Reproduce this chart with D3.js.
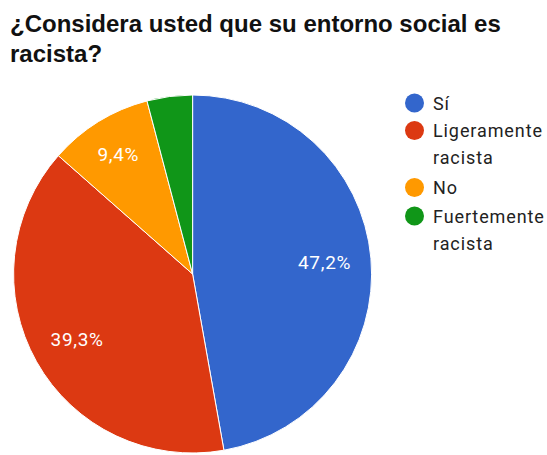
<!DOCTYPE html>
<html>
<head>
<meta charset="utf-8">
<script src="https://cdn.jsdelivr.net/npm/d3@7"></script>
<style>
  body { margin: 0; background: #fff; }
  svg { display: block; }
</style>
</head>
<body>
<svg id="chart" width="547" height="455"></svg>
<script>
// Survey answers and their shares (percent)
const categories = ["Sí", "Ligeramente racista", "No", "Fuertemente racista"];
const legendLines = [["Sí"], ["Ligeramente", "racista"], ["No"], ["Fuertemente", "racista"]];
const values = [47.2, 39.3, 9.4, 4.1];
const sliceLabels = ["47,2%", "39,3%", "9,4%", ""];
const colors = ["#3366cc", "#dc3912", "#ff9900", "#109618"];
const titleLines = ["¿Considera usted que su entorno social es", "racista?"];

const svg = d3.select("#chart");

// Title
svg.append("text")
  .attr("font-family", "Liberation Sans, Arial, sans-serif")
  .attr("font-weight", "bold")
  .attr("font-size", 24)
  .attr("fill", "#111")
  .selectAll("tspan")
  .data(titleLines)
  .join("tspan")
  .attr("x", 10)
  .attr("y", (d, i) => 32 + i * 30)
  .text(d => d);

// Pie, starting at 12 o'clock and running clockwise
const cx = 192.6, cy = 274, R = 179;
const pie = d3.pie().sort(null).value(d => d)(values);
const arc = d3.arc().innerRadius(0).outerRadius(R);
// narrow slices get their label pushed a little further out
const labelRadius = d => (d.endAngle - d.startAngle) < 0.8 ? R * 0.79 : R * 0.74;

const g = svg.append("g").attr("transform", `translate(${cx},${cy})`);
g.selectAll("path")
  .data(pie)
  .join("path")
  .attr("d", arc)
  .attr("fill", (d, i) => colors[i])
  .attr("stroke", "#fff")
  .attr("stroke-width", 1);

g.selectAll("text.lbl")
  .data(pie)
  .join("text")
  .attr("class", "lbl")
  .attr("transform", d => {
    const r = labelRadius(d);
    return `translate(${d3.arc().innerRadius(r).outerRadius(r).centroid(d)})`;
  })
  .attr("text-anchor", "middle")
  .attr("dy", "0.36em")
  .attr("font-family", "Roboto, Arial, sans-serif")
  .attr("font-size", 19)
  .attr("letter-spacing", 0.7)
  .attr("fill", "#fff")
  .text((d, i) => sliceLabels[i]);

// Legend
const legendY = [103, 130.5, 187.5, 216];
const items = svg.append("g")
  .selectAll("g")
  .data(categories)
  .join("g")
  .attr("transform", (d, i) => `translate(414.5,${legendY[i]})`);
items.append("circle")
  .attr("r", 9.5)
  .attr("fill", (d, i) => colors[i]);
items.append("text")
  .attr("font-family", "Roboto, Arial, sans-serif")
  .attr("font-size", 18)
  .attr("letter-spacing", 0.9)
  .attr("fill", "#222")
  .selectAll("tspan")
  .data((d, i) => legendLines[i])
  .join("tspan")
  .attr("x", 18.5)
  .attr("y", (d, j) => 6.5 + j * 27)
  .text(d => d);
</script>
</body>
</html>
